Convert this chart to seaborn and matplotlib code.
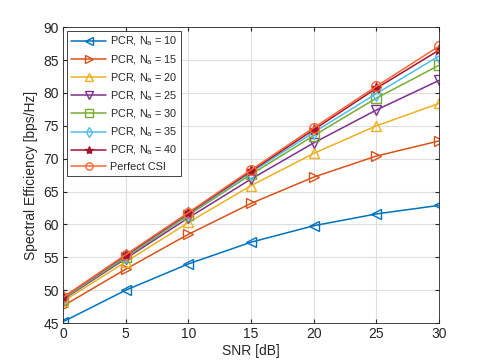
import matplotlib
matplotlib.use("Agg")
import matplotlib.pyplot as plt
import numpy as np
import pandas as pd
import seaborn as sns

snr = [0, 5, 10, 15, 20, 25, 30]
se_na10 = [45.2, 50.0, 54.0, 57.3, 59.8, 61.6, 62.9]
se_na15 = [47.6, 53.2, 58.5, 63.2, 67.2, 70.4, 72.7]
se_na20 = [48.3, 54.3, 60.3, 65.9, 70.8, 75.0, 78.4]
se_na25 = [48.6, 54.8, 61.0, 66.9, 72.4, 77.4, 81.9]
se_na30 = [48.7, 55.0, 61.4, 67.6, 73.5, 79.2, 84.2]
se_na35 = [48.8, 55.2, 61.6, 67.9, 74.0, 79.9, 85.6]
se_na40 = [48.9, 55.3, 61.7, 68.1, 74.4, 80.7, 86.5]
se_perfect = [48.9, 55.4, 61.8, 68.3, 74.7, 81.0, 87.1]

labels = [
    r"PCR, N$_\mathregular{a}$ = 10",
    r"PCR, N$_\mathregular{a}$ = 15",
    r"PCR, N$_\mathregular{a}$ = 20",
    r"PCR, N$_\mathregular{a}$ = 25",
    r"PCR, N$_\mathregular{a}$ = 30",
    r"PCR, N$_\mathregular{a}$ = 35",
    r"PCR, N$_\mathregular{a}$ = 40",
    "Perfect CSI",
]
series = [se_na10, se_na15, se_na20, se_na25, se_na30, se_na35, se_na40, se_perfect]

colors = ["#0072BD", "#D95319", "#EDB120", "#7E2F8E", "#77AC30", "#4DBEEE", "#A2142F", "#FF6633"]
markers = ["<", ">", "^", "v", "s", "d", "*", "o"]

sns.set_style("whitegrid")
plt.rcParams["font.family"] = ["Liberation Sans", "DejaVu Sans"]
plt.rcParams["mathtext.fontset"] = "custom"
plt.rcParams["mathtext.rm"] = "Liberation Sans"

fig = plt.figure(figsize=(4.85, 3.63), dpi=100)
ax = fig.add_axes([0.13, 0.11, 0.775, 0.815])

for y, lab, c, m in zip(series, labels, colors, markers):
    df = pd.DataFrame({"snr": snr, "se": y})
    filled = m == "*"
    sns.lineplot(
        data=df, x="snr", y="se", ax=ax, color=c, label=lab, marker=m,
        markersize=8 if filled else 7, linewidth=1.1,
        markerfacecolor=c if filled else "none", markeredgecolor=c, markeredgewidth=1.0,
    )

ax.set_xlim(0, 30)
ax.set_ylim(45, 90)
ax.set_xticks(np.arange(0, 31, 5))
ax.set_yticks(np.arange(45, 91, 5))
ax.set_xlabel("SNR [dB]", fontsize=10, color="#262626", labelpad=2)
ax.set_ylabel("Spectral Efficiency [bps/Hz]", fontsize=10, color="#262626", labelpad=4)
ax.grid(True, color="#DFDFDF", linewidth=0.8)
ax.tick_params(direction="in", length=3, labelsize=10, colors="#262626", pad=3,
               top=True, right=True, bottom=True, left=True)
for s in ax.spines.values():
    s.set_color("#262626")
    s.set_linewidth(0.6)

leg = ax.legend(loc="upper left", fontsize=7.8, frameon=True, fancybox=False,
                edgecolor="#262626", framealpha=1, borderaxespad=0.35,
                handlelength=3.3, labelspacing=0.42, borderpad=0.35, handletextpad=0.3,
                markerscale=0.75)
leg.get_frame().set_linewidth(0.6)

fig.savefig("out.png", dpi=100)
